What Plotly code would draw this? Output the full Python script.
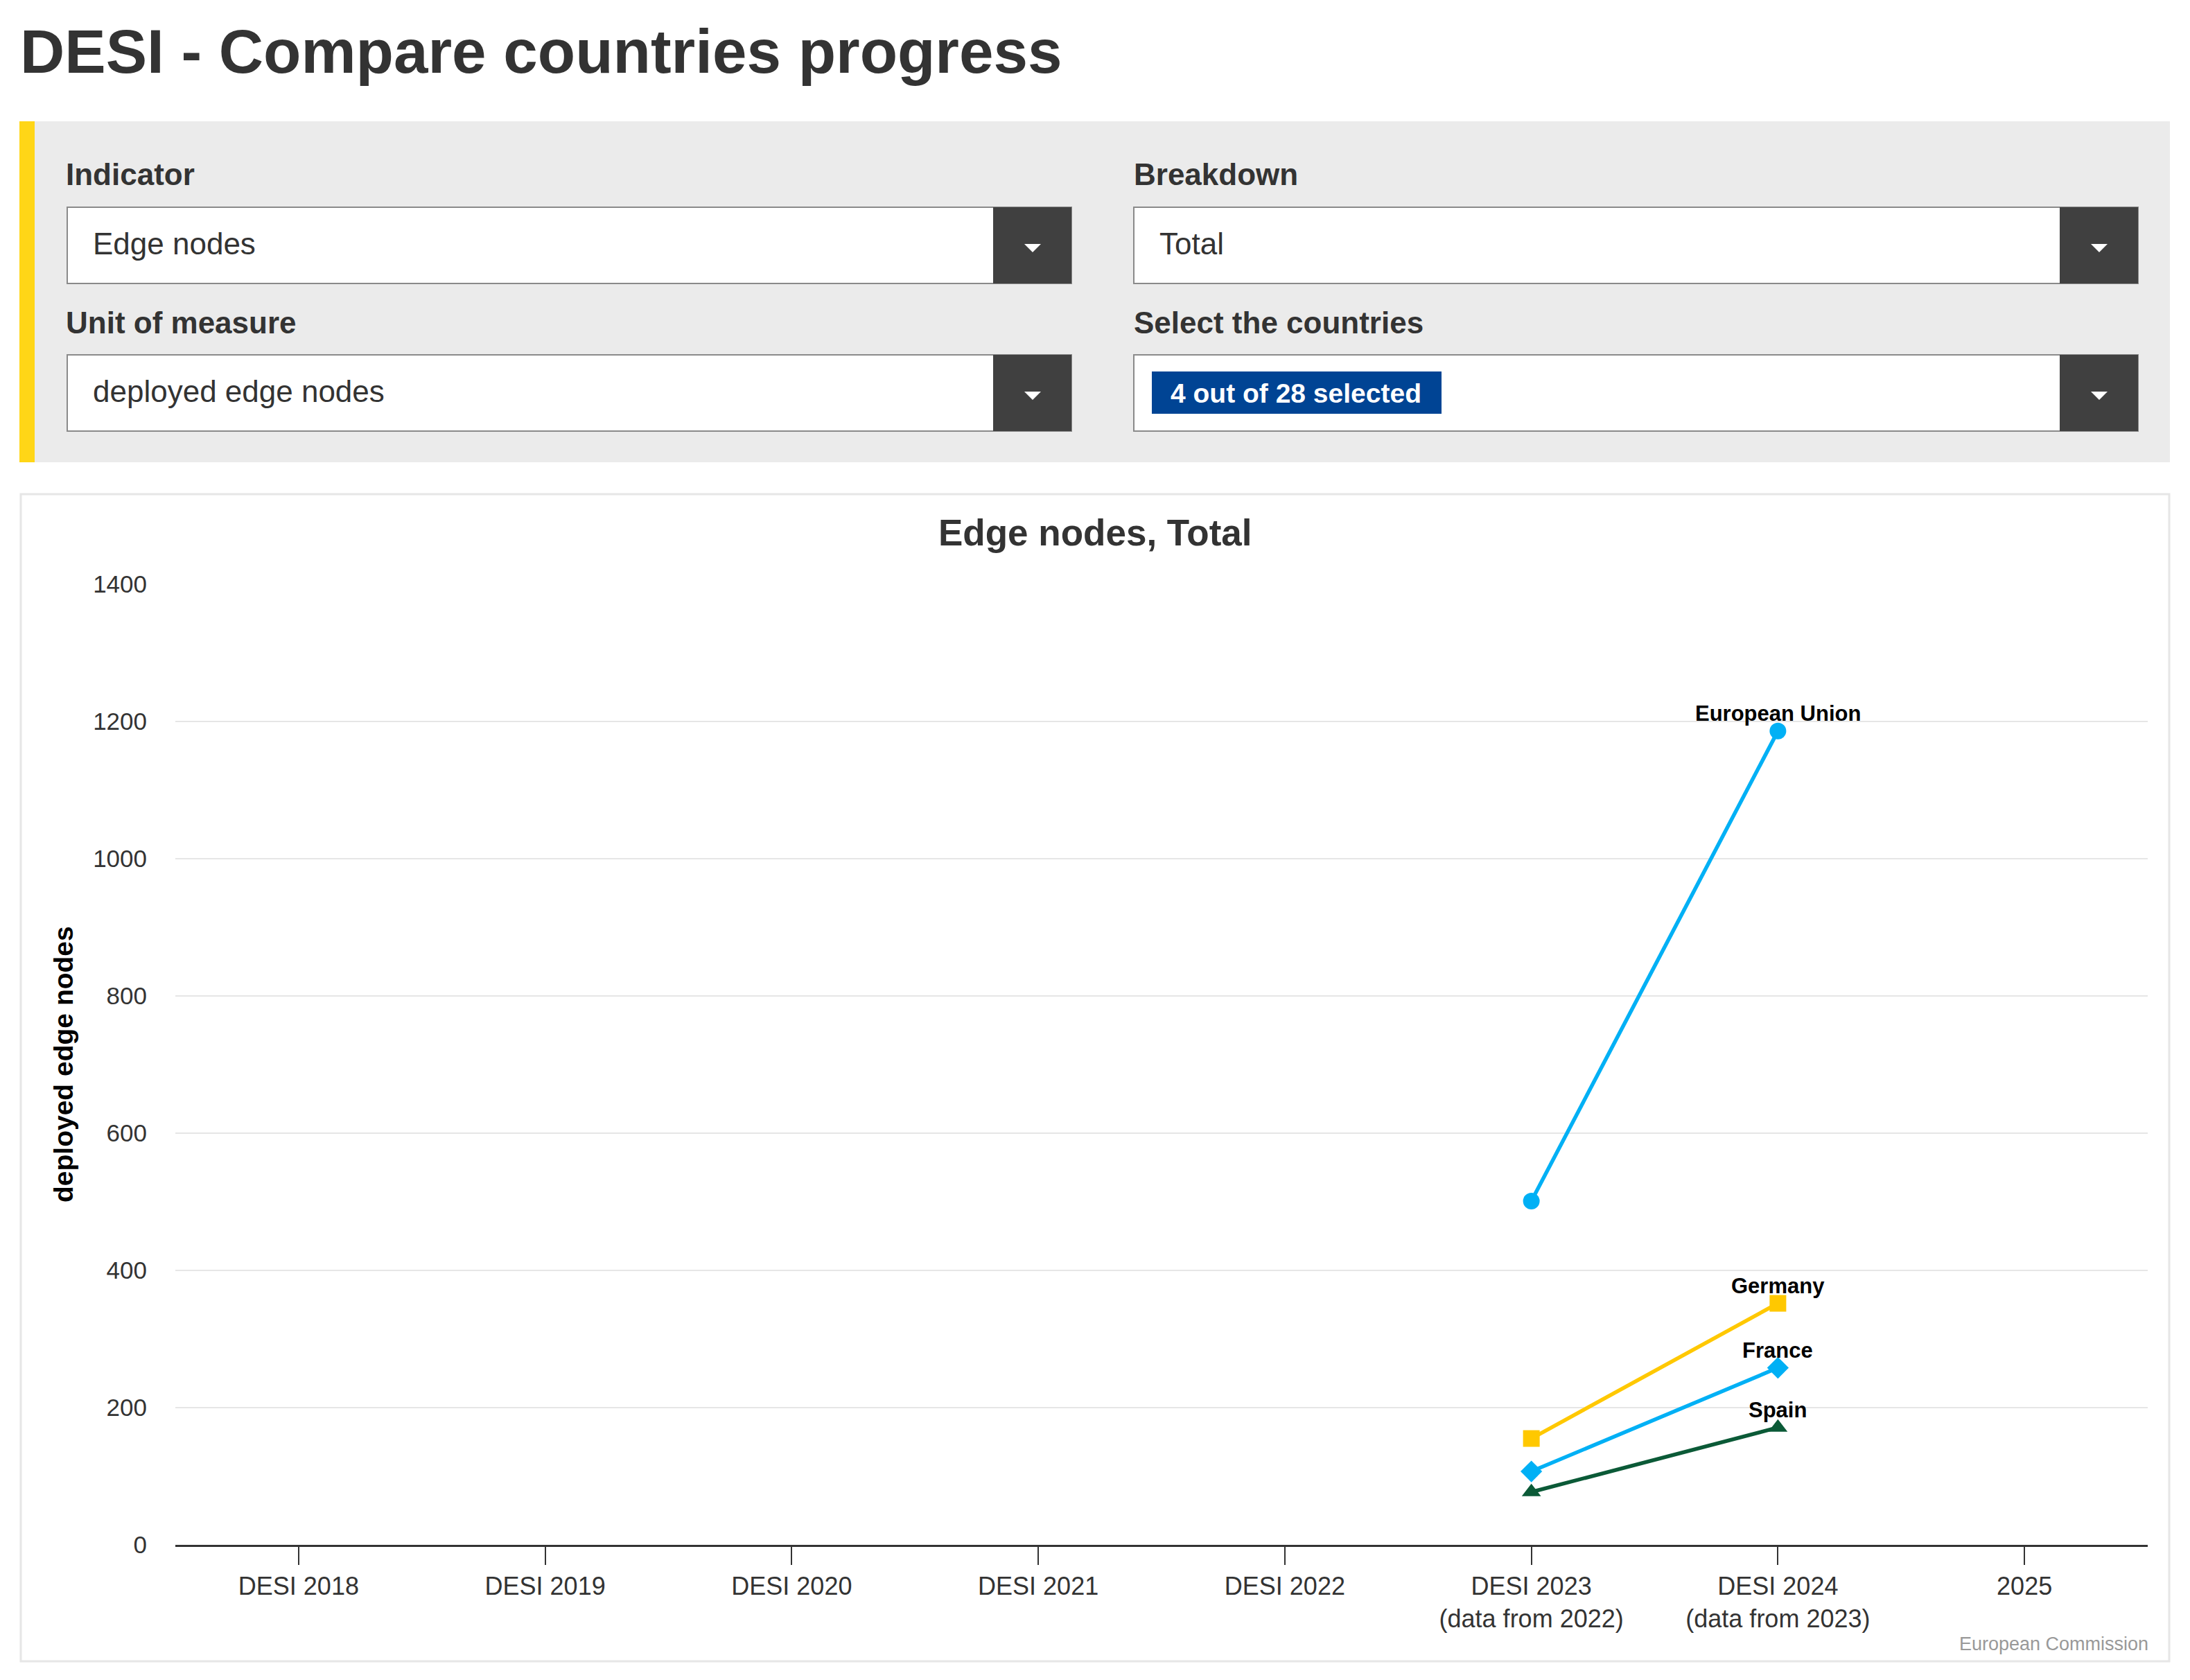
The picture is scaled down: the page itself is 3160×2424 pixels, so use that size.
import plotly.graph_objects as go

W, H = 3160, 2424
FONT = "Arial, Liberation Sans, sans-serif"
TEXT_COLOR = "#333333"

# chart data
categories = ["DESI 2018", "DESI 2019", "DESI 2020", "DESI 2021", "DESI 2022",
              "DESI 2023<br>(data from 2022)", "DESI 2024<br>(data from 2023)", "2025"]
eu_values = [None, None, None, None, None, 501, 1186, None]
germany_values = [None, None, None, None, None, 155, 352, None]
france_values = [None, None, None, None, None, 107, 258, None]
spain_values = [None, None, None, None, None, 77, 171, None]
y_ticks = [0, 200, 400, 600, 800, 1000, 1200, 1400]

series = [
    ("European Union", eu_values, "#00b0f5", "circle"),
    ("Germany", germany_values, "#ffc800", "square"),
    ("France", france_values, "#00b0f5", "diamond"),
    ("Spain", spain_values, "#0b5a37", "triangle-up"),
]


def px(x):
    return x / W


def py(y):
    return 1 - y / H


def rect(x0, y0, x1, y1, fill, line_color=None, line_width=0):
    return dict(type="rect", xref="paper", yref="paper",
                x0=px(x0), x1=px(x1), y0=py(y1), y1=py(y0),
                fillcolor=fill, layer="below",
                line=dict(color=line_color or fill, width=line_width))


def arrow(cx, cy):
    # little white triangle in the dropdown buttons
    path = "M {} {} L {} {} L {} {} Z".format(
        px(cx - 12), py(cy - 5), px(cx + 12), py(cy - 5), px(cx), py(cy + 7))
    return dict(type="path", xref="paper", yref="paper", path=path,
                fillcolor="white", line=dict(width=0), layer="below")


def label(x, y, text, size, color=TEXT_COLOR, bold=False, xanchor="left", angle=0):
    if bold:
        text = "<b>" + text + "</b>"
    return dict(x=px(x), y=py(y), xref="paper", yref="paper", text=text,
                showarrow=False, xanchor=xanchor, yanchor="middle", textangle=angle,
                font=dict(family=FONT, size=size, color=color))


fig = go.Figure()

annotations = []
for name, values, color, symbol in series:
    fig.add_trace(go.Scatter(
        x=categories, y=values, name=name, mode="lines+markers",
        line=dict(color=color, width=5.5),
        marker=dict(color=color, size=24, symbol=symbol),
        connectgaps=False, showlegend=False, cliponaxis=False,
    ))
    # name label above the latest point
    annotations.append(dict(
        x=categories[6], y=values[6], xref="x", yref="y", text="<b>" + name + "</b>",
        showarrow=False, xanchor="center", yanchor="middle", yshift=25,
        font=dict(family=FONT, size=31, color="#000000"),
    ))

shapes = [
    # filter panel
    rect(28, 175, 3131, 667, "#ebebeb"),
    rect(28, 175, 50, 667, "#ffd617"),
    # dropdowns
    rect(97, 299, 1546, 409, "white", "#8a8a8a", 2),
    rect(1433, 299, 1546, 409, "#404040"),
    rect(1636, 299, 3085, 409, "white", "#8a8a8a", 2),
    rect(2972, 299, 3085, 409, "#404040"),
    rect(97, 512, 1546, 622, "white", "#8a8a8a", 2),
    rect(1433, 512, 1546, 622, "#404040"),
    rect(1636, 512, 3085, 622, "white", "#8a8a8a", 2),
    rect(2972, 512, 3085, 622, "#404040"),
    rect(1662, 536, 2080, 597, "#004494"),
    arrow(1490, 357), arrow(3029, 357), arrow(1490, 570), arrow(3029, 570),
    # chart container
    rect(30, 713, 3130, 2397, "white", "#e6e6e6", 3),
]

annotations += [
    label(27, 74, "DESI - Compare countries progress", 89, bold=True),
    label(93, 252, "Indicator", 44, bold=True),
    label(1634, 252, "Breakdown", 44, bold=True),
    label(93, 465, "Unit of measure", 44, bold=True),
    label(1634, 465, "Select the countries", 44, bold=True),
    label(132, 352, "Edge nodes", 44),
    label(1671, 352, "Total", 44),
    label(132, 565, "deployed edge nodes", 44),
    label(1687, 567, "4 out of 28 selected", 39, color="white", bold=True),
    label(1580, 768, "Edge nodes, Total", 53, bold=True, xanchor="center"),
    label(91, 1536, "deployed edge nodes", 39, color="#000000", bold=True,
          xanchor="center", angle=-90),
    label(3102, 2372, "European Commission", 27, color="#999999", xanchor="right"),
]

fig.update_layout(
    width=W, height=H,
    margin=dict(l=0, r=0, t=0, b=0, autoexpand=False),
    paper_bgcolor="white",
    plot_bgcolor="rgba(0,0,0,0)",
    font=dict(family=FONT, color=TEXT_COLOR),
    shapes=shapes,
    annotations=annotations,
    xaxis=dict(
        domain=[px(253), px(3099)],
        type="category", categoryorder="array", categoryarray=categories,
        range=[-0.5, 7.5], automargin=False,
        showgrid=False, showline=True, linecolor="#333333", linewidth=3,
        ticks="outside", ticklen=26, tickwidth=2, tickcolor="#333333",
        tickfont=dict(family=FONT, size=36, color=TEXT_COLOR),
        fixedrange=True,
    ),
    yaxis=dict(
        domain=[py(2229), py(843)],
        range=[0, 1400], tickvals=y_ticks, automargin=False,
        showgrid=True, gridcolor="#e6e6e6", gridwidth=2,
        zeroline=False, showline=False, ticks="",
        ticklabelstandoff=40,
        tickfont=dict(family=FONT, size=35, color=TEXT_COLOR),
        fixedrange=True,
    ),
)

fig.write_html("out.html", config={"displayModeBar": False},
               post_script="document.body.style.margin='0';")
